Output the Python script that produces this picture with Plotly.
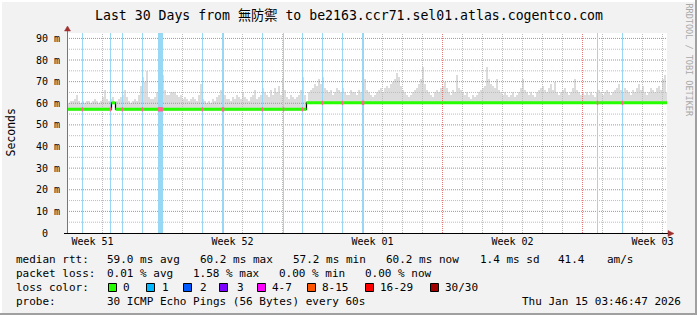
import numpy as np
import plotly.graph_objects as go

# ---------------- data ----------------
week_labels = ["Week 51", "Week 52", "Week 01", "Week 02", "Week 03"]
week_label_pos = [1.25, 8.25, 15.25, 22.25, 29.25]      # days from left edge
week_lines = [4.75, 11.75, 18.75, 25.75]
day_lines = [0.75 + k for k in range(30)]
y_major = [10, 20, 30, 40, 50, 60, 70, 80, 90]
y_minor = [5, 15, 25, 35, 45, 55, 65, 75, 85]
y_tick_vals = [0, 10, 20, 30, 40, 50, 60, 70, 80, 90]
y_tick_text = ["0\u00a0\u00a0", "10 m", "20 m", "30 m", "40 m", "50 m",
               "60 m", "70 m", "80 m", "90 m"]

# median rtt (ms), step function
median_t = [0, 2.2, 2.4, 11.95, 30]
median_v = [57.2, 60.2, 57.2, 60.2, 60.2]

# packet loss events (days) with loss count 1
loss_days = [0.75, 2.15, 2.75, 3.75, 4.55, 4.6, 4.65, 4.7, 4.75, 6.75,
             7.75, 7.8, 9.75, 10.8, 11.75, 12.75, 13.75, 14.75, 14.8,
             26.5, 27.75]

# smoke top (ms), one value per 0.1 day
smoke_top = [
    60, 61, 61, 62, 64, 61, 60, 61, 60, 61,
    61, 60, 61, 62, 61, 60, 61, 63, 66, 62,
    61, 62, 63, 60, 61, 62, 63, 64, 66, 63,
    61, 60, 61, 62, 61, 64, 68, 72, 70, 75,
    63, 62, 62, 63, 65, 70, 78, 73, 66, 64,
    64, 65, 65, 65, 64, 63, 64, 62, 63, 62,
    61, 62, 63, 62, 61, 64, 69, 62, 61, 60,
    61, 60, 62, 61, 63, 64, 66, 70, 64, 62,
    62, 61, 63, 62, 64, 63, 62, 65, 63, 62,
    61, 63, 64, 66, 62, 63, 64, 67, 65, 64,
    63, 66, 64, 67, 65, 68, 64, 71, 66, 63,
    62, 64, 63, 62, 63, 64, 66, 72, 64, 61,
    65, 66, 67, 69, 68, 71, 69, 72, 67, 66,
    65, 66, 64, 65, 67, 66, 65, 67, 65, 64,
    64, 66, 65, 65, 64, 66, 65, 72, 71, 66,
    65, 64, 63, 64, 65, 66, 67, 65, 67, 68,
    67, 69, 70, 71, 74, 72, 68, 66, 65, 64,
    63, 64, 65, 66, 67, 69, 71, 77, 69, 66,
    65, 64, 63, 65, 66, 65, 67, 68, 70, 67,
    65, 64, 66, 65, 73, 67, 66, 65, 64, 65,
    63, 62, 64, 63, 64, 65, 66, 67, 68, 77,
    71, 69, 68, 67, 71, 66, 65, 64, 65, 64,
    63, 64, 65, 63, 64, 65, 67, 71, 66, 65,
    64, 65, 64, 63, 65, 66, 67, 68, 66, 65,
    67, 69, 66, 70, 65, 64, 65, 66, 67, 65,
    64, 65, 67, 71, 66, 65, 64, 65, 64, 65,
    64, 65, 64, 63, 65, 66, 65, 64, 65, 66,
    65, 64, 65, 66, 67, 69, 66, 65, 67, 66,
    65, 64, 66, 65, 67, 69, 66, 68, 65, 64,
    65, 67, 66, 65, 67, 68, 66, 71, 73, 65,
]

loss_names = ["0", "1", "2", "3", "4-7", "8-15", "16-29", "30/30"]
loss_colors = ["#26ff00", "#00b8ff", "#0059ff", "#7e00ff", "#ff00ff",
               "#ff5500", "#ff0000", "#a10000"]

stats_rtt = ["median rtt:", "59.0 ms avg", "60.2 ms max", "57.2 ms min",
             "60.2 ms now", "1.4 ms sd", "41.4", "am/s"]
stats_loss = ["packet loss:", "0.01 % avg", "1.58 % max", "0.00 % min",
              "0.00 % now"]
title = "Last 30 Days from 無防禦 to be2163.ccr71.sel01.atlas.cogentco.com"
probe_text = "30 ICMP Echo Pings (56 Bytes) every 60s"
stamp = "Thu Jan 15 03:46:47 2026"

# ---------------- layout geometry ----------------
W, H = 697, 315
L, R, T, B = 67, 30, 33, 82
PW, PH = W - L - R, H - T - B
YMAX = 92.5
FONT = "DejaVu Sans Mono, Noto Sans CJK TC, monospace"


def px(xp):
    return (xp - L) / PW


def py(yp):
    return (T + PH - yp) / PH


fig = go.Figure()

# smoke
n = len(smoke_top)
bw = 30.0 / n
sx = np.arange(n) * bw + bw / 2
idx = np.searchsorted(median_t, sx, side="right") - 1
base = np.array(median_v)[idx] - 0.7
top = np.array(smoke_top, dtype=float)
fig.add_trace(go.Bar(x=sx, y=top - base, base=base, width=bw,
                     marker=dict(color="#dcdcdc", line=dict(width=0)),
                     hoverinfo="skip"))


def grid_trace(xs, ys, color):
    fig.add_trace(go.Scatter(x=xs, y=ys, mode="lines",
                             line=dict(color=color, width=1, dash="1px,1px",
                                       simplify=False),
                             hoverinfo="skip"))


# minor grid
gx, gy = [], []
for d in day_lines:
    if d in week_lines:
        continue
    gx += [d, d, None]
    gy += [0, YMAX, None]
for v in y_minor:
    gx += [-0.025, 29.975, None]
    gy += [v, v, None]
grid_trace(gx, gy, "#bdbdbd")

# major grid
gx, gy = [], []
for d in week_lines:
    gx += [d, d, None]
    gy += [0, YMAX, None]
for v in y_major:
    gx += [-0.025, 29.975, None]
    gy += [v, v, None]
grid_trace(gx, gy, "#e27a7a")

# loss lines (full height), drawn over the grid
lx, ly = [], []
for d in loss_days:
    lx += [d, d, None]
    ly += [0, YMAX, None]
fig.add_trace(go.Scatter(x=lx, y=ly, mode="lines",
                         line=dict(color="#98d8f5", width=1, simplify=False),
                         hoverinfo="skip"))

# median: black step line + green horizontal segments
fig.add_trace(go.Scatter(x=median_t, y=median_v, mode="lines",
                         line=dict(color="#000000", width=1.2, shape="hv"),
                         hoverinfo="skip"))
mx, my = [], []
for i in range(len(median_t) - 1):
    mx += [median_t[i], median_t[i + 1], None]
    my += [median_v[i], median_v[i], None]
fig.add_trace(go.Scatter(x=mx, y=my, mode="lines",
                         line=dict(color="#26ff00", width=3), hoverinfo="skip"))
li = np.searchsorted(median_t, loss_days, side="right") - 1
fig.add_trace(go.Scatter(x=loss_days, y=list(np.array(median_v)[li]),
                         mode="markers",
                         marker=dict(symbol="line-ns-open", size=3,
                                     line=dict(color="#00b8ff", width=1.5)),
                         hoverinfo="skip"))

shapes = []
# borders
shapes.append(dict(type="rect", xref="paper", yref="paper", x0=px(0), x1=px(W),
                   y0=py(313), y1=py(315), fillcolor="#a0a0a0", line_width=0))
shapes.append(dict(type="rect", xref="paper", yref="paper", x0=px(695), x1=px(W),
                   y0=py(0), y1=py(315), fillcolor="#a0a0a0", line_width=0))
shapes.append(dict(type="rect", xref="paper", yref="paper", x0=px(0), x1=px(695),
                   y0=py(0), y1=py(2), fillcolor="#ffffff", line_width=0))
shapes.append(dict(type="rect", xref="paper", yref="paper", x0=px(0), x1=px(2),
                   y0=py(0), y1=py(313), fillcolor="#ffffff", line_width=0))
# axes
shapes.append(dict(type="line", xref="paper", yref="paper", x0=px(67.5), x1=px(67.5),
                   y0=py(233), y1=py(30), line=dict(color="#777777", width=1)))
shapes.append(dict(type="line", xref="paper", yref="paper", x0=px(64), x1=px(669),
                   y0=py(233.5), y1=py(233.5), line=dict(color="#000000", width=1)))
# arrows
shapes.append(dict(type="path", xref="paper", yref="paper",
                   path=f"M {px(668)},{py(230.5)} L {px(674)},{py(233.5)} L {px(668)},{py(236.5)} Z",
                   fillcolor="#a03030", line=dict(color="#a03030", width=0.5)))
shapes.append(dict(type="path", xref="paper", yref="paper",
                   path=f"M {px(64.5)},{py(31)} L {px(67.5)},{py(26)} L {px(70.5)},{py(31)} Z",
                   fillcolor="#a03030", line=dict(color="#a03030", width=0.5)))
# legend boxes
box_x = [108, 146, 183, 219, 257, 307, 365, 430]
lab_x = [123, 162, 200, 237, 272, 322, 380, 445]
for bx, c in zip(box_x, loss_colors):
    shapes.append(dict(type="rect", xref="paper", yref="paper",
                       x0=px(bx + 0.5), x1=px(bx + 8.5), y0=py(291.5), y1=py(283.5),
                       fillcolor=c, line=dict(color="#000000", width=1)))

annotations = []


def txt(s, x, y, size=11, anchor="left", color="#000000", angle=0):
    annotations.append(dict(text=s, x=px(x), y=py(y), xref="paper", yref="paper",
                            xanchor=anchor, yanchor="middle", showarrow=False,
                            borderpad=0, borderwidth=0, textangle=angle,
                            font=dict(family=FONT, size=size, color=color)))


txt(title, 348.5, 15.5, size=13.2, anchor="center")
txt("Seconds", 10.5, 133, size=11.5, anchor="center", angle=-90)
txt("RRDTOOL / TOBI OETIKER", 688.5, 60, size=8.5, anchor="center",
    color="#a8a8a8", angle=90)

for s, x in zip(stats_rtt, [16, 107, 200, 293, 386, 480, 558, 607]):
    txt(s, x, 259.5)
for s, x in zip(stats_loss, [16, 107, 193, 279, 365]):
    txt(s, x, 273.5)
txt("loss color:", 16, 287.5)
for s, x in zip(loss_names, lab_x):
    txt(s, x, 287.5)
txt("probe:", 16, 301.5)
txt(probe_text, 107, 301.5)
txt(stamp, 681, 301.5, anchor="right")

fig.update_layout(
    width=W, height=H,
    margin=dict(l=L, r=R, t=T, b=B, pad=0),
    paper_bgcolor="#f2f2f2", plot_bgcolor="#ffffff",
    showlegend=False, hovermode=False,
    shapes=shapes, annotations=annotations,
    barmode="overlay", bargap=0,
    xaxis=dict(range=[-0.025, 29.975], tickvals=week_label_pos, ticktext=week_labels,
               showgrid=False, zeroline=False, showline=False, ticks="",
               tickfont=dict(family=FONT, size=10, color="#000000"),
               ticklabelstandoff=1, fixedrange=True),
    yaxis=dict(range=[0, YMAX], tickvals=y_tick_vals, ticktext=y_tick_text,
               showgrid=False, zeroline=False, showline=False, ticks="",
               tickfont=dict(family=FONT, size=10, color="#000000"),
               ticklabelstandoff=6, fixedrange=True),
)

fig.write_html("out.html", config=dict(displayModeBar=False, staticPlot=True))
